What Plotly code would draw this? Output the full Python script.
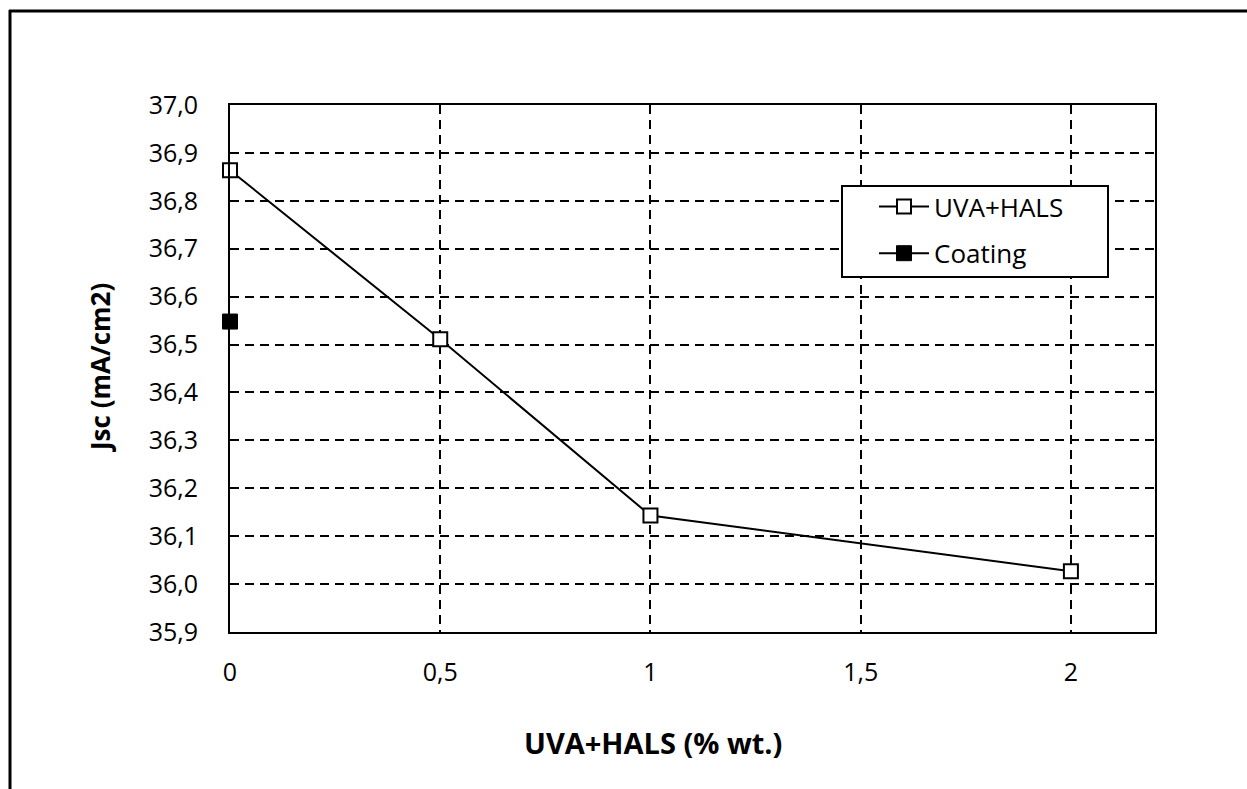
import plotly.graph_objects as go

uva_x = [0, 0.5, 1, 2]
uva_y = [36.864, 36.511, 36.143, 36.027]
coat_x = [0]
coat_y = [36.548]
x_tickvals = [0, 0.5, 1, 1.5, 2]
x_ticktext = ["0", "0,5", "1", "1,5", "2"]
y_tickvals = [35.9, 36.0, 36.1, 36.2, 36.3, 36.4, 36.5, 36.6, 36.7, 36.8, 36.9, 37.0]
y_ticktext = ["35,9", "36,0", "36,1", "36,2", "36,3", "36,4", "36,5", "36,6", "36,7", "36,8", "36,9", "37,0"]

FONT = "Open Sans"
W, H = 1247, 789
L, R, T, B = 230, 1155, 105, 632

def px(x):
    return (x - L) / (R - L)

def py(y):
    return (B - y) / (B - T)

fig = go.Figure()
fig.add_trace(go.Scatter(
    x=uva_x, y=uva_y, mode="lines+markers", name="UVA+HALS",
    line=dict(color="black", width=2),
    marker=dict(symbol="square", size=14, color="white", line=dict(color="black", width=2)),
    cliponaxis=False, legendgroup="a",
))
fig.add_trace(go.Scatter(
    x=coat_x, y=coat_y, mode="lines+markers", name="Coating",
    line=dict(color="black", width=2),
    marker=dict(symbol="square", size=15, color="black", line=dict(color="black", width=1)),
    cliponaxis=False, legendgroup="b",
))

fig.update_layout(
    width=W, height=H,
    margin=dict(l=L, r=W - R, t=T, b=H - B),
    paper_bgcolor="white", plot_bgcolor="white",
    font=dict(family=FONT, size=25, color="black"),
    showlegend=True,
    legend=dict(
        x=px(874), y=py(183), xanchor="left", yanchor="top",
        bgcolor="rgba(0,0,0,0)", borderwidth=0,
        font=dict(family=FONT, size=26, color="black"),
        traceorder="grouped", tracegroupgap=10, itemwidth=50,
    ),
    xaxis=dict(
        range=[0, 2.2], tickvals=x_tickvals, ticktext=x_ticktext,
        showgrid=True, gridcolor="black", gridwidth=2, griddash="9px,6px",
        showline=True, linecolor="black", linewidth=2, mirror=True,
        zeroline=False, ticks="", ticklabelstandoff=17,
        tickfont=dict(family=FONT, size=25, color="black"),
    ),
    yaxis=dict(
        range=[35.9, 37.0], tickvals=y_tickvals, ticktext=y_ticktext,
        showgrid=True, gridcolor="black", gridwidth=2, griddash="9px,6px",
        showline=True, linecolor="black", linewidth=2, mirror=True,
        zeroline=False, ticks="", ticklabelstandoff=25,
        tickfont=dict(family=FONT, size=25, color="black"),
    ),
    annotations=[
        dict(text="<b>Jsc (mA/cm2)</b>", x=px(100), y=py(368), xref="paper", yref="paper",
             textangle=-90, showarrow=False, font=dict(family=FONT, size=26, color="black"),
             xanchor="center", yanchor="middle"),
        dict(text="<b>UVA+HALS (% wt.)</b>", x=px(653), y=py(742), xref="paper", yref="paper",
             showarrow=False, font=dict(family=FONT, size=29, color="black"),
             xanchor="center", yanchor="middle"),
    ],
    shapes=[
        dict(type="line", xref="paper", yref="paper", x0=px(10), x1=px(10), y0=py(H + 5), y1=py(10),
             line=dict(color="black", width=3)),
        dict(type="line", xref="paper", yref="paper", x0=px(9), x1=px(W + 5), y0=py(11), y1=py(11),
             line=dict(color="black", width=3)),
        dict(type="rect", xref="paper", yref="paper", x0=px(842), x1=px(1108), y0=py(277), y1=py(186),
             line=dict(color="black", width=2), fillcolor="white", layer="above"),
    ],
)

fig.write_html("out.html")
